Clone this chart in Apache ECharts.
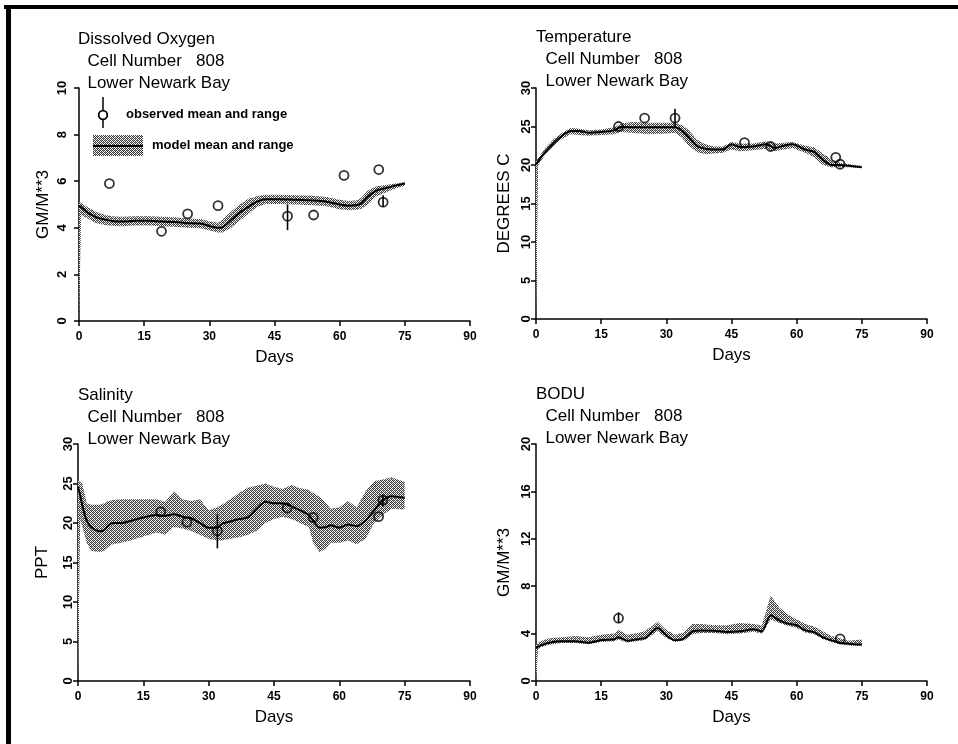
<!DOCTYPE html>
<html><head><meta charset="utf-8">
<script src="https://cdn.jsdelivr.net/npm/echarts@6/dist/echarts.min.js"></script>
<style>html,body{margin:0;padding:0;background:#fff}#c{width:958px;height:744px}</style>
</head><body><div id="c"></div><script>
// ---- Dissolved Oxygen ----
const doDays = [0,0.5,2,4,6,8,10,13,16,19,22,25,28,30,32,33,35,37,39,41,43,46,50,54,57,60,62,64,65,66.5,68.5,71,73,75];
const doMean = [4.95,4.88,4.65,4.45,4.35,4.28,4.27,4.3,4.3,4.27,4.25,4.2,4.18,4.08,4.0,4.02,4.33,4.65,4.9,5.12,5.22,5.22,5.2,5.17,5.12,5.0,4.95,4.98,5.05,5.33,5.6,5.72,5.82,5.9];
const doLow  = [0,4.55,4.4,4.2,4.12,4.08,4.07,4.1,4.1,4.07,4.05,4.0,3.98,3.88,3.8,3.8,4.0,4.3,4.6,4.9,5.02,5.02,5.0,4.97,4.92,4.8,4.75,4.78,4.82,5.0,5.35,5.55,5.7,5.8];
const doHigh = [5.1,5.08,4.88,4.68,4.55,4.48,4.47,4.5,4.5,4.47,4.45,4.4,4.38,4.28,4.22,4.35,4.7,5.0,5.25,5.35,5.42,5.42,5.4,5.38,5.32,5.2,5.15,5.18,5.3,5.6,5.78,5.85,5.9,5.95];
const doObsDays = [7,19,25,32,48,54,61,69,70];
const doObs     = [5.9,3.85,4.6,4.95,4.5,4.55,6.25,6.5,5.1];
const doObsMin  = [null,null,null,null,3.9,null,null,null,4.9];
const doObsMax  = [null,null,null,null,5.0,null,null,null,5.4];
// ---- Temperature ----
const tDays = [0,0.5,2,4,6,8,10,12,15,18,19.5,22,26,30,32,33.5,35,37,39,41,43,45,47,50,53,55,57,59,62,64,66,68,70,72,75];
const tMean = [20.1,20.5,21.6,22.8,23.8,24.4,24.4,24.2,24.3,24.5,24.95,24.9,24.9,24.9,24.9,24.5,23.7,22.5,22.1,22.0,22.0,22.7,22.3,22.4,22.7,22.2,22.5,22.7,22.0,21.7,20.7,20.0,20.0,19.9,19.7];
const tLow  = [0,20.0,21.2,22.4,23.4,24.0,23.9,23.8,23.9,24.0,24.3,24.2,24.0,24.1,24.2,23.6,22.6,21.7,21.4,21.5,21.6,22.0,21.8,21.9,22.1,21.8,22.0,22.2,21.6,21.0,20.0,19.7,19.7,19.7,19.6];
const tHigh = [20.5,20.9,22.1,23.3,24.2,24.8,24.7,24.5,24.6,24.9,25.4,25.6,25.5,25.5,25.5,25.2,24.6,23.3,22.7,22.4,22.4,23.0,22.8,22.8,23.1,22.8,22.9,23.0,22.5,22.3,21.5,20.7,20.3,20.1,19.9];
const tObsDays = [19,25,32,48,54,69,70];
const tObs     = [25.0,26.1,26.1,22.9,22.4,21.0,20.1];
const tObsMin  = [null,null,24.9,null,null,null,null];
const tObsMax  = [null,null,27.3,null,null,null,null];
// ---- Salinity ----
const sDays = [0,0.5,1,2,3,5,6,7,8,10,12,15,18,20,22,24,26,28,30,32,33,35,37,39,41,43,45,47,49,51,53,54,55.5,57,58,60,62,64,66,68,70,72,75];
const sMean = [24.6,23.5,22.2,20.3,19.5,18.95,19.1,19.7,20.0,20.0,20.25,20.7,21.0,20.9,21.1,20.8,20.6,20.0,19.4,19.4,19.9,20.2,20.5,20.7,21.8,22.7,22.5,22.5,22.1,21.6,21.0,20.3,19.4,19.5,19.7,19.4,19.8,19.6,20.3,21.6,22.9,23.4,23.2];
const sLow  = [0,20.5,19.5,17.5,16.5,16.3,16.5,17.0,17.3,17.5,17.8,18.3,18.8,18.5,19.5,19.3,19.0,18.5,18.0,17.8,17.8,18.0,18.2,18.5,19.0,20.0,20.5,20.8,20.5,20.0,19.5,17.5,16.3,16.8,17.5,17.5,17.8,17.3,18.0,20.0,21.0,21.8,21.7];
const sHigh = [25.4,25.2,25.0,22.5,22.3,22.3,22.5,22.8,22.9,23.0,23.0,23.0,23.0,22.7,24.0,23.0,22.8,23.0,21.6,22.0,22.3,23.0,23.8,24.5,24.7,25.0,24.6,24.3,24.8,24.4,24.2,23.8,23.3,22.5,21.8,22.0,22.8,22.0,24.0,25.3,25.5,25.8,25.2];
const sObsDays = [19,25,32,48,54,69,70];
const sObs     = [21.4,20.1,19.0,21.9,20.7,20.8,22.9];
const sObsMin  = [null,null,16.8,null,null,null,22.1];
const sObsMax  = [null,null,21.1,null,null,null,23.6];
// ---- BODU ----
const bDays = [0,0.5,1,3,6,9,12,15,18,19,21,24,25,28,30,32,34,36,38,41,44,47,50,52,54,56,58,60,62,64,66,68,70,72,75];
const bMean = [2.78,2.9,3.0,3.23,3.35,3.35,3.23,3.46,3.52,3.7,3.4,3.57,3.6,4.47,3.85,3.43,3.57,4.19,4.27,4.24,4.13,4.19,4.36,4.19,5.54,5.12,4.84,4.7,4.27,4.13,3.7,3.43,3.23,3.15,3.07];
const bLow  = [0,2.7,2.85,3.05,3.2,3.2,3.1,3.3,3.35,3.5,3.25,3.4,3.45,4.2,3.65,3.3,3.4,3.95,4.05,4.05,3.95,4.0,4.15,4.0,5.2,4.9,4.65,4.5,4.1,3.95,3.55,3.3,3.1,3.0,2.95];
const bHigh = [3.0,3.2,3.35,3.6,3.7,3.8,3.7,3.9,4.0,4.3,3.9,4.1,4.2,5.0,4.3,3.9,4.1,4.8,4.8,4.7,4.7,4.9,4.8,4.7,7.2,6.2,5.6,5.2,4.8,4.6,4.2,3.8,3.6,3.4,3.5];
const bObsDays = [19,70];
const bObs     = [5.3,3.55];
const bObsMin  = [4.9,null];
const bObsMax  = [5.8,null];

const titles = [
  ['Dissolved Oxygen','Cell Number   808','Lower Newark Bay'],
  ['Temperature','Cell Number   808','Lower Newark Bay'],
  ['Salinity','Cell Number   808','Lower Newark Bay'],
  ['BODU','Cell Number   808','Lower Newark Bay']
];
const yNames = ['GM/M**3','DEGREES C','PPT','GM/M**3'];
const yMaxes = [10,30,30,20];
const yIntervals = [2,5,5,4];
const xTicks = {min:0,max:90,interval:15};
const legendTexts = ['observed mean and range','model mean and range'];

// stipple pattern (scattered dots)
const pat = document.createElement('canvas');
pat.width = 4; pat.height = 4;
const pc = pat.getContext('2d');
pc.fillStyle = '#fff'; pc.fillRect(0,0,4,4);
pc.fillStyle = '#3c3c3c';
[[0,0],[2,0],[1,1],[3,1],[0,2],[2,2],[3,3],[1,3]].forEach(p=>pc.fillRect(p[0],p[1],1,1));
pc.fillStyle = '#9a9a9a';
[[1,0],[3,2]].forEach(p=>pc.fillRect(p[0],p[1],1,1));
const stipple = {image: pat, repeat: 'repeat'};

const FONT = 'Liberation Sans';
const grids = [
  {left:79, top:88, width:391, height:233},
  {left:536, top:88, width:391, height:231},
  {left:78, top:444, width:392, height:237},
  {left:536, top:444, width:391, height:237}
];
const panels = [
  [doDays,doMean,doLow,doHigh,doObsDays,doObs,doObsMin,doObsMax],
  [tDays,tMean,tLow,tHigh,tObsDays,tObs,tObsMin,tObsMax],
  [sDays,sMean,sLow,sHigh,sObsDays,sObs,sObsMin,sObsMax],
  [bDays,bMean,bLow,bHigh,bObsDays,bObs,bObsMin,bObsMax]
];
const yNameGaps = [27,23,27,23];
const yLabelMargins = [10,3,3,3];
const titlePos = [[78,28],[536,26],[78,384],[536,383]];

const xAxes = [], yAxes = [], series = [], titleArr = [];
panels.forEach((p, i) => {
  const [days, mean, lo, hi, od, ov, omin, omax] = p;
  xAxes.push({
    gridIndex:i, type:'value', min:xTicks.min, max:xTicks.max, interval:xTicks.interval,
    name:'Days', nameLocation:'middle', nameGap:28,
    nameTextStyle:{fontSize:17, color:'#000', fontFamily:FONT},
    axisLine:{onZero:false, lineStyle:{color:'#000', width:1.5}},
    axisTick:{length:5, lineStyle:{color:'#000', width:1.5}},
    axisLabel:{color:'#000', fontSize:12, fontWeight:'bold', fontFamily:FONT, margin:10},
    splitLine:{show:false}
  });
  yAxes.push({
    gridIndex:i, type:'value', min:0, max:yMaxes[i], interval:yIntervals[i],
    name:yNames[i], nameLocation:'middle', nameRotate:90, nameGap:yNameGaps[i],
    nameTextStyle:{fontSize:17, color:'#000', fontFamily:FONT},
    axisLine:{onZero:false, lineStyle:{color:'#000', width:1.5}},
    axisTick:{length:5, lineStyle:{color:'#000', width:1.5}},
    axisLabel:{color:'#000', fontSize:13, fontWeight:'bold', fontFamily:FONT, rotate:90, margin:yLabelMargins[i]},
    splitLine:{show:false}
  });
  titleArr.push({
    text: titles[i][0] + '\n  ' + titles[i][1] + '\n  ' + titles[i][2],
    left: titlePos[i][0], top: titlePos[i][1], padding:0,
    textStyle:{fontSize:17, fontWeight:'normal', color:'#000', fontFamily:FONT, lineHeight:22}
  });
  // model range band
  series.push({
    type:'custom', coordinateSystem:'cartesian2d', xAxisIndex:i, yAxisIndex:i, silent:true, z:1,
    data: days.map((d,k)=>[d, lo[k], hi[k]]),
    encode:{x:0, y:[1,2]},
    renderItem:(params, api) => {
      if (params.dataIndex !== 0) return null;
      const pts = [];
      for (let k = 0; k < days.length; k++) pts.push(api.coord([days[k], hi[k]]));
      for (let k = days.length-1; k >= 0; k--) pts.push(api.coord([days[k], lo[k]]));
      return {type:'polygon', shape:{points:pts}, style:{fill:stipple, stroke:null}};
    }
  });
  // model mean
  series.push({
    type:'line', xAxisIndex:i, yAxisIndex:i, z:3, smooth:0.25, symbol:'none', silent:true,
    data: days.map((d,k)=>[d, mean[k]]),
    lineStyle:{color:'#000', width:2}
  });
  // observed range bars
  series.push({
    type:'custom', coordinateSystem:'cartesian2d', xAxisIndex:i, yAxisIndex:i, z:4, silent:true,
    data: od.map((d,k)=>[d, omin[k], omax[k]]).filter(r=>r[1]!==null),
    encode:{x:0, y:[1,2]},
    renderItem:(params, api) => {
      const a = api.coord([api.value(0), api.value(1)]);
      const b = api.coord([api.value(0), api.value(2)]);
      return {type:'line', shape:{x1:a[0], y1:a[1], x2:b[0], y2:b[1]}, style:{stroke:'#000', lineWidth:1.6}};
    }
  });
  // observed means
  series.push({
    type:'scatter', xAxisIndex:i, yAxisIndex:i, z:5, silent:true,
    symbol:'circle', symbolSize:9,
    data: od.map((d,k)=>[d, ov[k]]),
    itemStyle:{color:'rgba(255,255,255,0)', borderColor:'#000', borderWidth:1.8}
  });
});

const graphic = [
  // frame
  {type:'line', shape:{x1:4, y1:7, x2:958, y2:7}, style:{stroke:'#000', lineWidth:4}, silent:true},
  {type:'line', shape:{x1:8.5, y1:5, x2:8.5, y2:744}, style:{stroke:'#000', lineWidth:5}, silent:true},
  // legend: observed
  {type:'line', shape:{x1:103, y1:97, x2:103, y2:128}, style:{stroke:'#000', lineWidth:1.5}},
  {type:'circle', shape:{cx:103, cy:115, r:4.3}, style:{stroke:'#000', fill:'#fff', lineWidth:1.8}},
  {type:'text', left:126, top:108, style:{text:legendTexts[0], fontSize:13, fontWeight:'bold', fontFamily:FONT, fill:'#000'}},
  // legend: model
  {type:'rect', shape:{x:93, y:135, width:50, height:21}, style:{fill:stipple}},
  {type:'line', shape:{x1:93, y1:146, x2:143, y2:146}, style:{stroke:'#000', lineWidth:2}},
  {type:'text', left:152, top:139, style:{text:legendTexts[1], fontSize:13, fontWeight:'bold', fontFamily:FONT, fill:'#000'}}
];

const chart = echarts.init(document.getElementById('c'), null, {renderer:'canvas'});
chart.setOption({
  animation:false,
  backgroundColor:'#fff',
  title: titleArr,
  grid: grids,
  xAxis: xAxes,
  yAxis: yAxes,
  series: series,
  graphic: graphic
});
</script></body></html>
